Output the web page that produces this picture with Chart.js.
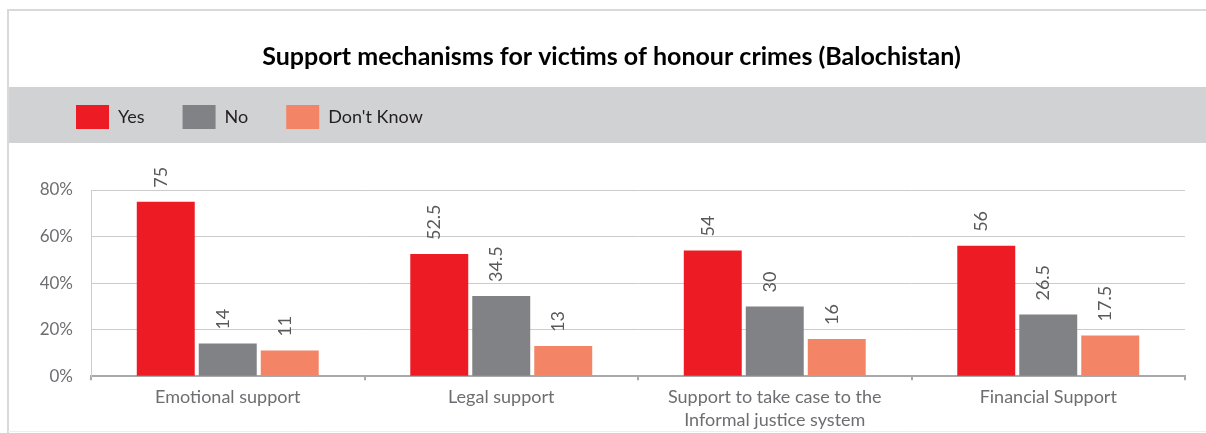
<!DOCTYPE html>
<html>
<head>
<meta charset="utf-8">
<script src="https://cdn.jsdelivr.net/npm/chart.js@4/dist/chart.umd.min.js"></script>
<style>
  html, body { margin: 0; padding: 0; background: #fff; }
  #wrap { width: 1206px; height: 433px; }
</style>
</head>
<body>
<div id="wrap"><canvas id="myChart" width="1206" height="433"></canvas></div>
<script>
let categorias = [
  "Emotional support",
  "Legal support",
  ["Support to take case to the", "Informal justice system"],
  "Financial Support"
];
let valoresSi = [75, 52.5, 54, 56];
let valoresNo = [14, 34.5, 30, 26.5];
let valoresNoSabe = [11, 13, 16, 17.5];
let ticksY = [0, 20, 40, 60, 80];

let rojo = "#ed1c24";
let gris = "#818285";
let salmon = "#f48466";
let grisTexto = "#6d6e71";
let fuente = "Lato, 'Open Sans', sans-serif";

// fondo blanco, marco y franja gris detras de la leyenda
const fondo = {
  id: "fondo",
  beforeDraw(chart) {
    const ctx = chart.ctx;
    const leg = chart.legend;
    ctx.save();
    ctx.fillStyle = "#ffffff";
    ctx.fillRect(0, 0, chart.width, chart.height);
    ctx.fillStyle = "#d1d2d4";
    ctx.fillRect(8, leg.top + 20, chart.width - 8, leg.bottom - leg.top - 16);
    ctx.strokeStyle = "#d9d9d9";
    ctx.lineWidth = 2;
    ctx.beginPath();
    ctx.moveTo(8, chart.height);
    ctx.lineTo(8, 10);
    ctx.lineTo(chart.width, 10);
    ctx.stroke();
    ctx.lineWidth = 1;
    ctx.strokeStyle = "#eeeeee";
    ctx.beginPath();
    ctx.moveTo(8, chart.height - 1.5);
    ctx.lineTo(chart.width, chart.height - 1.5);
    ctx.stroke();
    ctx.restore();
  }
};

// numeros verticales encima de cada barra
const etiquetas = {
  id: "etiquetas",
  afterDatasetsDraw(chart) {
    const ctx = chart.ctx;
    ctx.save();
    ctx.fillStyle = "#58595b";
    ctx.font = "18px " + fuente;
    ctx.textAlign = "left";
    ctx.textBaseline = "alphabetic";
    chart.data.datasets.forEach((ds, i) => {
      const meta = chart.getDatasetMeta(i);
      meta.data.forEach((barra, j) => {
        ctx.save();
        ctx.translate(barra.x + 1, barra.y - 14);
        ctx.rotate(-Math.PI / 2);
        ctx.fillText(String(ds.data[j]), 0, 0);
        ctx.restore();
      });
    });
    ctx.restore();
  }
};

let grafico = new Chart(document.getElementById("myChart"), {
  type: "bar",
  data: {
    labels: categorias,
    datasets: [
      { label: "Yes", data: valoresSi, backgroundColor: rojo },
      { label: "No", data: valoresNo, backgroundColor: gris },
      { label: "Don't Know", data: valoresNoSabe, backgroundColor: salmon }
    ]
  },
  options: {
    responsive: false,
    animation: false,
    categoryPercentage: 0.68,
    barPercentage: 0.935,
    layout: { padding: { top: 10, left: 38, right: 21, bottom: -4 } },
    plugins: {
      title: {
        display: true,
        text: "Support mechanisms for victims of honour crimes (Balochistan)",
        color: "#000000",
        font: { family: fuente, size: 25, weight: "bold", lineHeight: 0.8 },
        padding: { top: 37, bottom: 0 }
      },
      subtitle: {
        display: true,
        text: "",
        weight: 500,
        font: { size: 12, lineHeight: 1 },
        padding: { top: 0, bottom: 39 }
      },
      legend: {
        display: true,
        position: "top",
        align: "start",
        labels: {
          boxWidth: 33,
          boxHeight: 24,
          padding: 38,
          color: "#231f20",
          font: { family: fuente, size: 18 }
        }
      },
      tooltip: { enabled: false }
    },
    scales: {
      x: {
        offset: true,
        grid: {
          offset: true,
          drawOnChartArea: false,
          drawTicks: true,
          tickLength: 4,
          color: "#a7a9ac",
          lineWidth: 2
        },
        border: { display: true, color: "#a7a9ac", width: 2 },
        ticks: {
          color: grisTexto,
          padding: 5,
          maxRotation: 0,
          autoSkip: false,
          font: { family: fuente, size: 18, lineHeight: 1.3 }
        }
      },
      y: {
        min: 0,
        max: 80,
        afterBuildTicks(scale) {
          scale.ticks = ticksY.map(v => ({ value: v }));
        },
        afterFit(scale) {
          scale.width = 53;
        },
        grid: { color: "#cbcccd", lineWidth: 1, drawTicks: false },
        border: { display: true, color: "#cbcccd", width: 1 },
        ticks: {
          color: grisTexto,
          padding: 18,
          font: { family: fuente, size: 17 },
          callback: v => v + "%"
        }
      }
    }
  },
  plugins: [fondo, etiquetas]
});
</script>
</body>
</html>
